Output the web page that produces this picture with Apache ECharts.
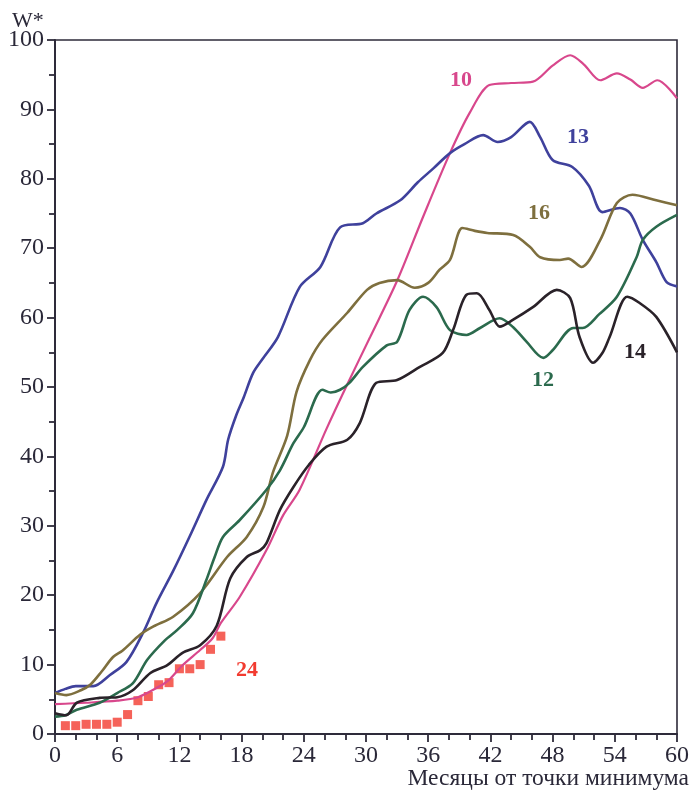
<!DOCTYPE html>
<html><head><meta charset="utf-8">
<script src="https://cdn.jsdelivr.net/npm/echarts@6/dist/echarts.min.js"></script>
<style>html,body{margin:0;padding:0;background:#fff}#c{width:692px;height:795px}</style>
</head><body><div id="c"></div>
<script>
// Axis settings
const xRange = [0, 60, 6];
const yRange = [0, 100, 10];
const xTitle = 'Месяцы от точки минимума';
const yTitle = 'W*';

// Cycle 10
const c10x = [0, 3, 6, 8, 10, 11, 12.3, 14, 15.2, 16, 17.8, 20.4, 22, 23.6, 26.2, 28.2, 30.4, 33, 35.5, 38.1, 40, 41.9, 44, 46.1, 48, 49.7, 51, 52.6, 54.2, 55.5, 56.7, 58.1, 60];
const c10y = [4.3, 4.5, 4.8, 5.3, 6.8, 7.8, 9.9, 12.1, 13.8, 16, 19.7, 26.5, 31.5, 35.2, 44, 50.4, 57.2, 65.3, 74.5, 83.7, 89.5, 93.5, 93.8, 94, 96.3, 97.8, 96.5, 94.2, 95.2, 94.3, 93.1, 94.2, 91.6];
// Cycle 13
const c13x = [0, 1, 2, 3.7, 5.3, 6.9, 8.5, 9.8, 11.4, 13, 14.6, 16.2, 16.7, 17.5, 18.2, 19.1, 20, 21.5, 23.6, 25.6, 27.5, 29.7, 31, 33.3, 35, 36.5, 38.1, 39.5, 41.3, 42.7, 44, 45.8, 46.8, 48, 49.9, 51.5, 52.8, 54.5, 55.5, 56.7, 58, 59, 60];
const c13y = [5.9, 6.5, 6.9, 6.9, 8.5, 10.4, 14.6, 18.9, 23.5, 28.5, 33.7, 38.5, 42.4, 46, 48.5, 52, 54, 57.2, 64.4, 67.3, 73, 73.6, 75, 76.9, 79.5, 81.5, 83.7, 85, 86.3, 85.3, 86, 88.2, 86, 82.7, 81.7, 79, 75.2, 75.8, 75, 71.2, 68, 65.1, 64.5];
// Cycle 16
const c16x = [0, 1.1, 2.5, 3.4, 4.5, 5.6, 6.5, 8.2, 9.5, 11.4, 14, 16.6, 18.5, 20.1, 21, 22.4, 23.3, 24.6, 25.8, 28.2, 30.1, 31.3, 33, 34.7, 36, 37.1, 38.1, 39.3, 40.5, 41.7, 44.2, 45.8, 46.8, 48.7, 49.5, 50.8, 52.6, 54.2, 55.7, 58, 60];
const c16y = [5.9, 5.6, 6.3, 7.1, 9, 11.1, 12, 14.3, 15.5, 16.9, 20.3, 25.5, 28.4, 32.7, 37.6, 43, 49.3, 53.9, 56.8, 60.7, 64, 65, 65.4, 64.3, 65, 66.9, 68.3, 72.9, 72.5, 72.2, 71.9, 70.2, 68.7, 68.3, 68.5, 67.3, 71.2, 76.5, 77.7, 76.9, 76.2];
// Cycle 12
const c12x = [0, 1, 2.1, 4.3, 6, 7.5, 8.9, 10.6, 11.8, 13.3, 14.6, 15.4, 16.2, 17.8, 20.4, 21.7, 23, 24, 25.8, 26.6, 27.5, 28.4, 29.7, 32, 33, 34.2, 35.5, 36.8, 38.1, 39.7, 41, 42.9, 44.2, 45.5, 47.1, 48, 50, 50.9, 52.5, 54.2, 56.1, 56.7, 58, 60];
const c12y = [2.5, 2.7, 3.5, 4.5, 5.9, 7.3, 10.7, 13.5, 15, 17.4, 22.2, 25.5, 28.4, 30.8, 35.2, 38, 41.9, 44.2, 49.6, 49.2, 49.6, 50.6, 52.9, 56, 56.5, 61.1, 63, 61.5, 58.2, 57.5, 58.5, 59.9, 58.6, 56.5, 54.2, 55.3, 58.5, 58.5, 60.5, 63, 68.7, 71.2, 73.1, 74.8];
// Cycle 14
const c14x = [0, 1.1, 2.1, 4.3, 6, 7.5, 9.2, 10.8, 12.3, 14, 15.6, 16.9, 18.5, 19.8, 20.4, 21.7, 23, 24.5, 26.2, 28.2, 29.4, 31, 33, 35.2, 37.4, 38.4, 39.7, 40.7, 41.9, 42.9, 44.2, 46.1, 48.4, 49.7, 50.6, 51.9, 52.8, 53.5, 55.2, 56.4, 58, 60];
const c14y = [3, 2.7, 4.5, 5.2, 5.3, 6.3, 8.8, 9.9, 11.7, 12.8, 15.6, 22.4, 25.5, 26.5, 27.5, 32.3, 35.6, 38.8, 41.4, 42.4, 44.8, 50.6, 51, 52.9, 54.9, 58.2, 63.3, 63.5, 61.1, 58.7, 59.7, 61.5, 64, 62.8, 57.2, 53.5, 54.9, 57.2, 63, 62.1, 60.1, 55];
// Cycle 24 (squares)
const c24x = [1, 2, 3, 4, 5, 6, 7, 8, 9, 10, 11, 12, 13, 14, 15, 16];
const c24y = [1.2, 1.2, 1.4, 1.4, 1.4, 1.7, 2.8, 4.8, 5.4, 7.1, 7.4, 9.4, 9.4, 10, 12.2, 14.1];

const zip = (xs, ys) => xs.map((x, i) => [x, ys[i]]);
const serif = '"Liberation Serif", "DejaVu Serif", serif';
const axisCol = '#2e2b3a';

const lines = [
  { name: '10', x: c10x, y: c10y, color: '#d8478c', w: 2.2 },
  { name: '13', x: c13x, y: c13y, color: '#3f419c', w: 2.6 },
  { name: '16', x: c16x, y: c16y, color: '#7e6f3e', w: 2.6 },
  { name: '12', x: c12x, y: c12y, color: '#2b6a4d', w: 2.6 },
  { name: '14', x: c14x, y: c14y, color: '#2a2229', w: 2.6 }
];

const chart = echarts.init(document.getElementById('c'), null, { renderer: 'canvas' });
const series = lines.map(s => ({
  type: 'line', name: s.name, data: zip(s.x, s.y), smooth: 0.3, showSymbol: false,
  lineStyle: { color: s.color, width: s.w }, z: 3
}));
series.push({
  type: 'scatter', name: '24', data: zip(c24x, c24y), symbol: 'rect', symbolSize: 9,
  itemStyle: { color: '#f23b30' }, z: 2
});

const labelTxt = (text, x, y, color) => ({
  type: 'text', x: x, y: y, z: 10,
  style: { text: text, fill: color, font: 'bold 22px ' + serif, align: 'center', verticalAlign: 'middle' }
});

chart.setOption({
  animation: false,
  backgroundColor: '#ffffff',
  grid: { left: 55, right: 15, top: 40, bottom: 61, show: true, borderColor: axisCol, borderWidth: 1.6 },
  xAxis: {
    type: 'value', min: xRange[0], max: xRange[1], interval: xRange[2],
    axisLine: { show: true, lineStyle: { color: axisCol, width: 2 } },
    axisTick: { show: true, length: 8, lineStyle: { color: axisCol, width: 1.8 } },
    minorTick: { show: true, splitNumber: 3, length: 6, lineStyle: { color: axisCol, width: 1.8 } },
    splitLine: { show: false },
    axisLabel: { color: '#2a2838', fontFamily: serif, fontSize: 24, margin: 10 }
  },
  yAxis: {
    type: 'value', min: yRange[0], max: yRange[1], interval: yRange[2],
    axisLine: { show: true, lineStyle: { color: axisCol, width: 2 } },
    axisTick: { show: true, length: 8, lineStyle: { color: axisCol, width: 1.8 } },
    minorTick: { show: true, splitNumber: 2, length: 6, lineStyle: { color: axisCol, width: 1.8 } },
    splitLine: { show: false },
    axisLabel: { color: '#2a2838', fontFamily: serif, fontSize: 24, margin: 11 }
  },
  series: series,
  graphic: [
    { type: 'text', x: 12, y: 21, style: { text: yTitle, fill: '#2a2838', font: '22px ' + serif, align: 'left', verticalAlign: 'middle' } },
    { type: 'text', x: 689, y: 779, style: { text: xTitle, fill: '#2a2838', font: '23.5px ' + serif, align: 'right', verticalAlign: 'middle' } },
    labelTxt('10', 461, 80, '#d8478c'),
    labelTxt('13', 578, 137, '#3f419c'),
    labelTxt('16', 539, 213, '#7e6f3e'),
    labelTxt('12', 543, 380, '#2b6a4d'),
    labelTxt('14', 635, 352, '#2a2229'),
    labelTxt('24', 247, 670, '#f23b30')
  ]
});
</script>
</body></html>
